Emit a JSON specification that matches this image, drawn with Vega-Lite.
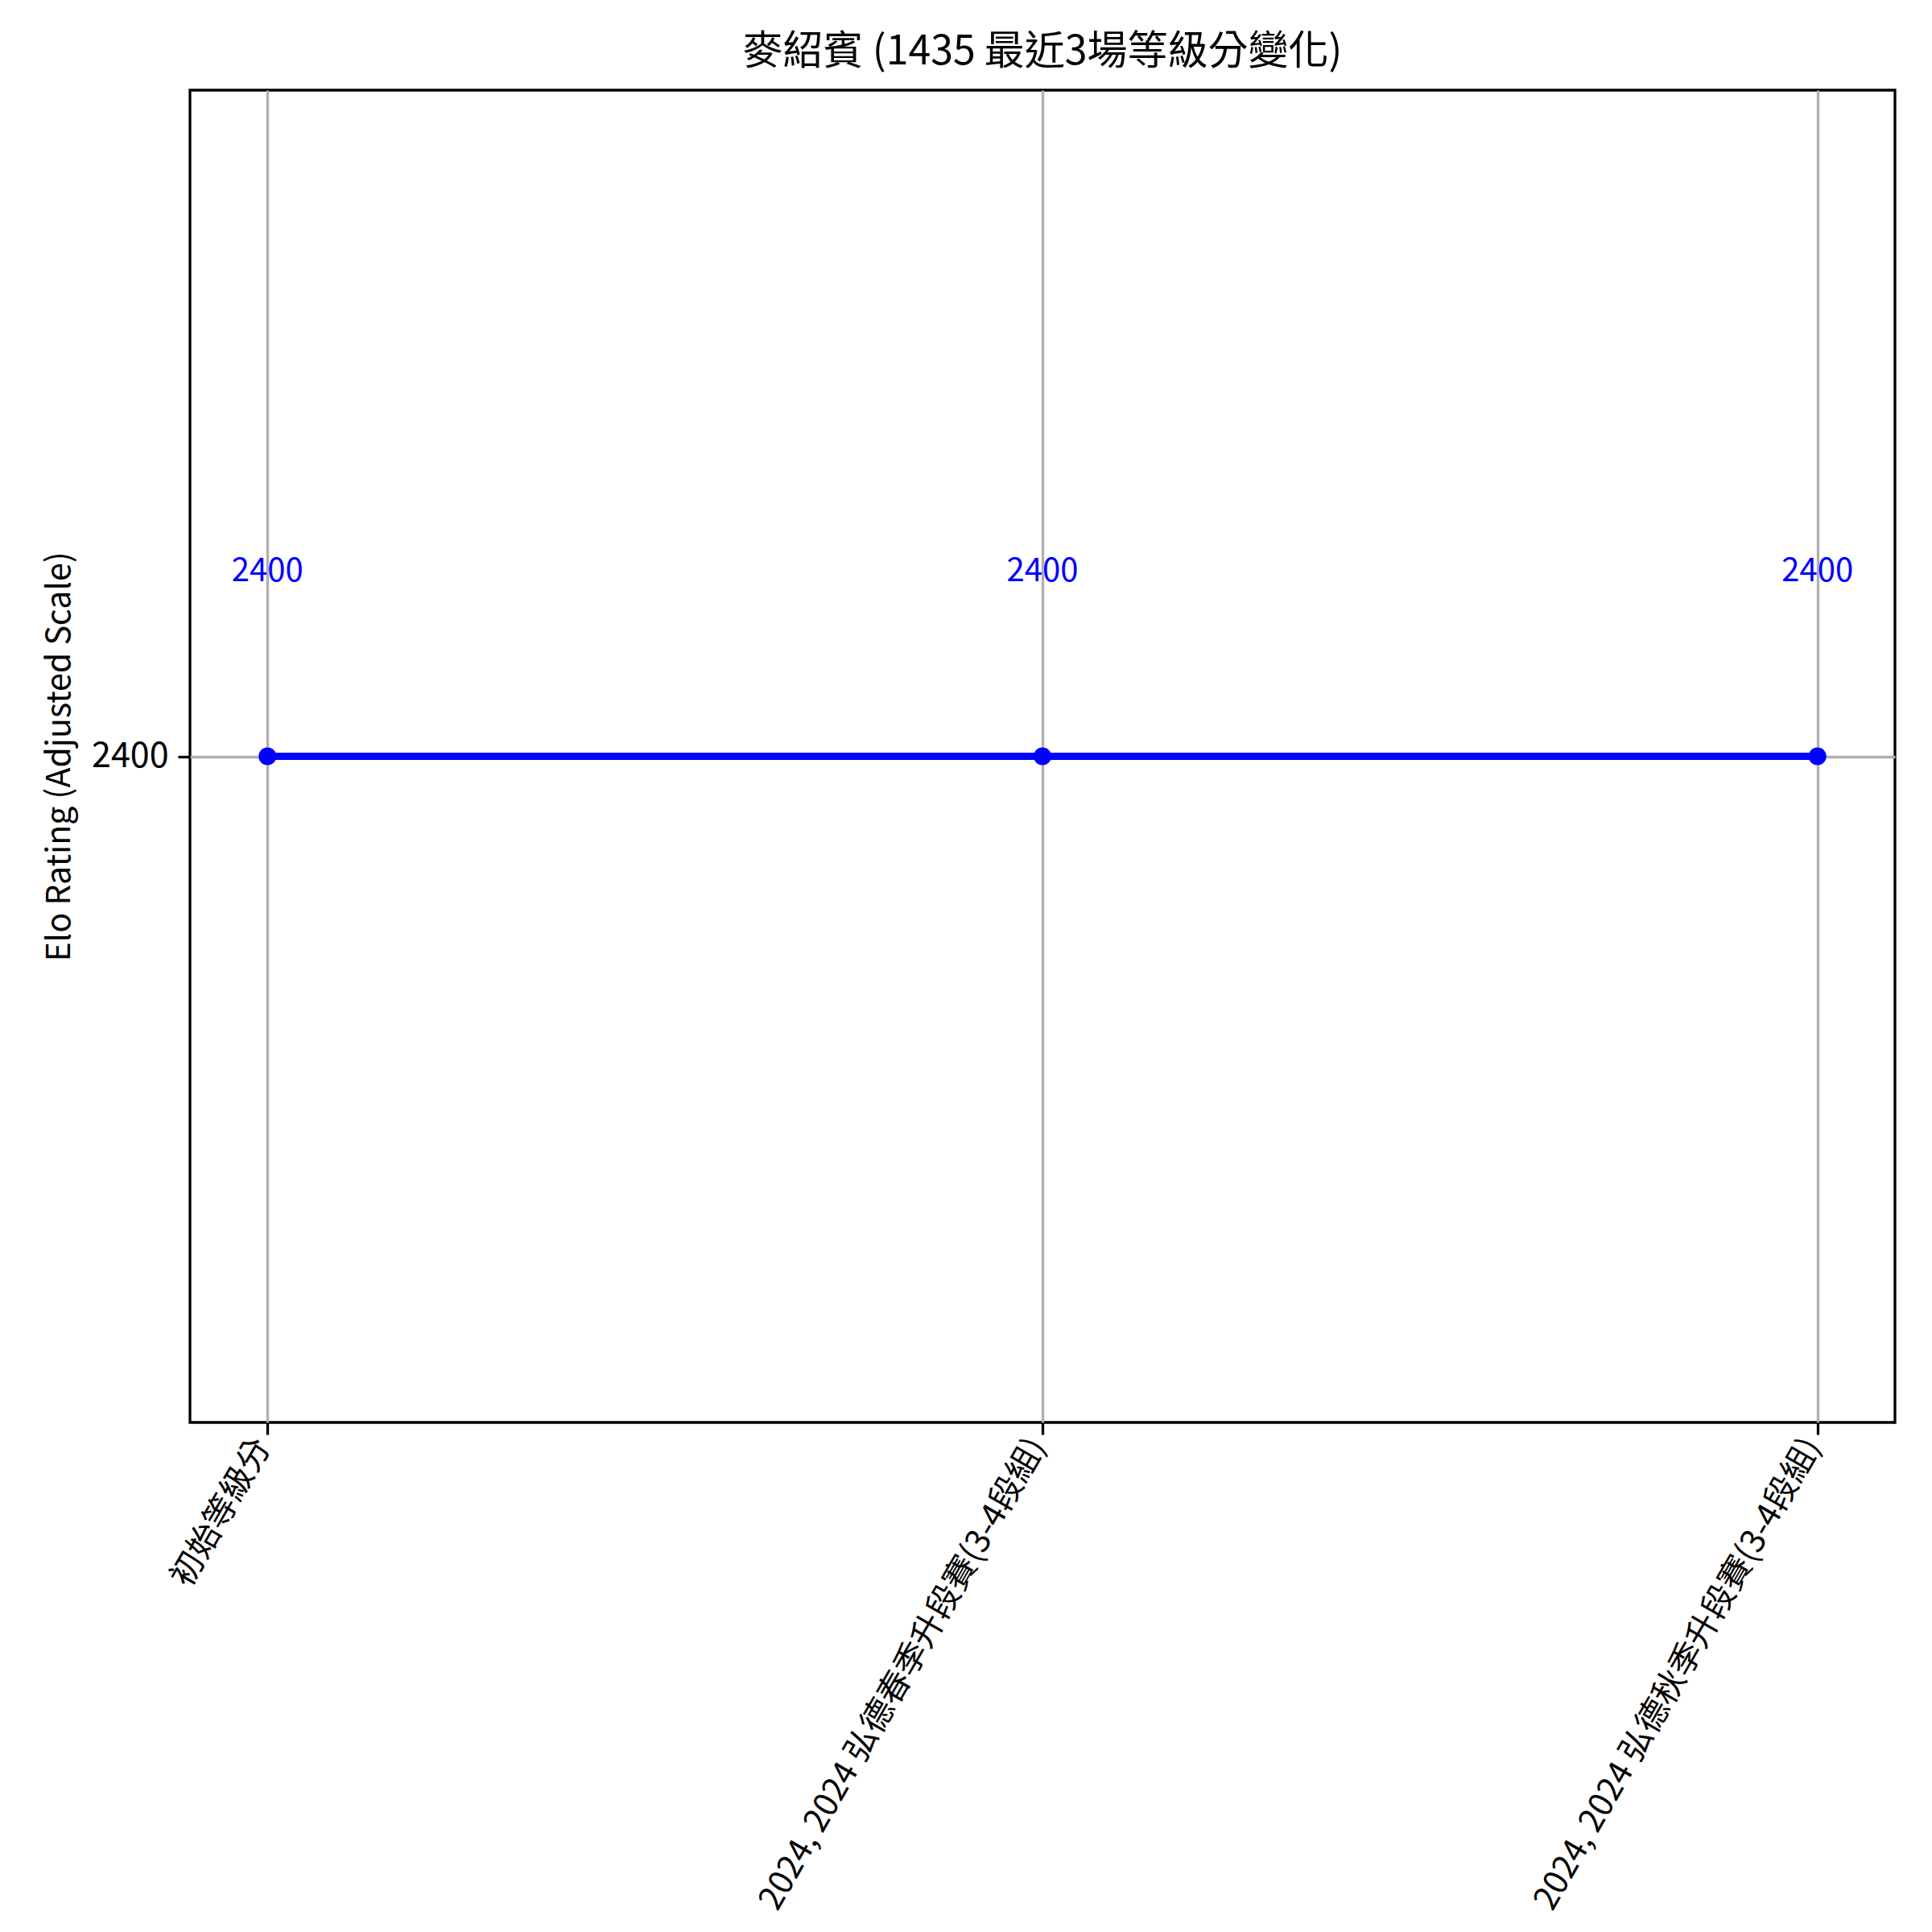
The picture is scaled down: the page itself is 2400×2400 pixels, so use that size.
{
  "$schema": "https://vega.github.io/schema/vega-lite/v6.json",
  "autosize": {"type": "none"},
  "padding": {"left": 236, "top": 112, "right": 46, "bottom": 633},
  "width": 2118,
  "height": 1655,
  "background": "white",
  "title": {
    "text": "麥紹賓 (1435 最近3場等級分變化)",
    "font": "Noto Sans CJK TC",
    "fontSize": 50,
    "fontWeight": "normal",
    "color": "black",
    "anchor": "middle",
    "offset": 22
  },
  "config": {
    "view": {"stroke": "black", "strokeWidth": 3.3},
    "axis": {
      "labelFont": "Noto Sans CJK TC",
      "titleFont": "Noto Sans CJK TC",
      "labelColor": "black",
      "titleColor": "black",
      "gridColor": "#b0b0b0",
      "gridWidth": 3.3,
      "gridOpacity": 1,
      "tickColor": "black",
      "tickWidth": 3.3,
      "tickSize": 15,
      "domain": false
    }
  },
  "data": {
    "values": [
      {"event": "初始等級分", "rating": 2400},
      {"event": "2024, 2024 弘德春季升段賽(3-4段組)", "rating": 2400},
      {"event": "2024, 2024 弘德秋季升段賽(3-4段組)", "rating": 2400}
    ]
  },
  "encoding": {
    "x": {
      "field": "event",
      "type": "nominal",
      "sort": ["初始等級分", "2024, 2024 弘德春季升段賽(3-4段組)", "2024, 2024 弘德秋季升段賽(3-4段組)"],
      "scale": {"type": "point", "padding": 0.1},
      "axis": {
        "title": null,
        "labelAngle": -60,
        "labelAlign": "right",
        "labelBaseline": "middle",
        "labelFontSize": 41,
        "labelPadding": 8,
        "labelOffset": -6,
        "labelLimit": 0,
        "grid": true
      }
    },
    "y": {
      "field": "rating",
      "type": "quantitative",
      "scale": {"domain": [2300, 2500], "zero": false, "nice": false},
      "axis": {
        "title": "Elo Rating (Adjusted Scale)",
        "titleFontSize": 41,
        "titleFontWeight": "normal",
        "titlePadding": 18,
        "labelFontSize": 43,
        "labelPadding": 12,
        "format": "d",
        "values": [2400],
        "grid": true
      }
    }
  },
  "layer": [
    {"mark": {"type": "line", "color": "#0000ff", "strokeWidth": 9}},
    {"mark": {"type": "point", "filled": true, "color": "#0000ff", "opacity": 1, "size": 490, "shape": "circle"}},
    {
      "mark": {"type": "text", "color": "#0000ff", "font": "Noto Sans CJK TC", "fontSize": 40, "dy": -230, "align": "center", "baseline": "middle"},
      "encoding": {"text": {"field": "rating", "type": "quantitative", "format": "d"}}
    }
  ]
}
